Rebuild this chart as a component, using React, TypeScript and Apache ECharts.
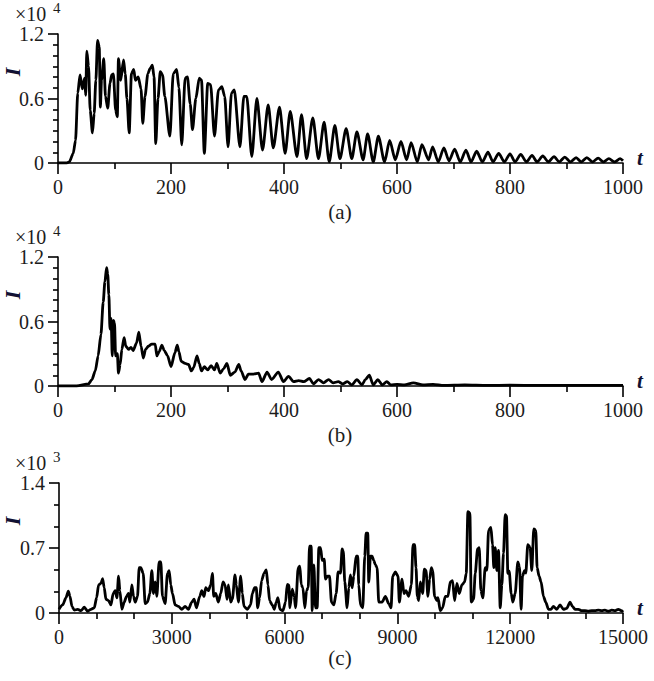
import React, { useEffect, useRef } from "react";
import * as echarts from "echarts";

// Panel (a): time and I (x10^4)
const aT = [0, 15, 20, 27, 31, 35, 39, 43, 47, 49, 51, 54, 57, 61, 64, 67, 70, 73, 75, 77, 81, 84, 88, 92, 95, 98, 102, 105, 107, 111, 116, 119, 122, 126, 130, 134, 137, 142, 147, 150, 154, 159, 163, 167, 170, 173, 177, 181, 185, 189, 198, 204, 210, 214, 219, 225, 229, 234, 238, 244, 250, 254, 259, 265, 270, 277, 284, 290, 295, 301, 307, 312, 322, 329, 334, 343, 352, 362, 372, 381, 392, 402, 411, 423, 431, 440, 451, 461, 471, 480, 490, 499, 510, 520, 529, 540, 548, 558, 567, 578, 587, 597, 607, 617, 625, 636, 644, 656, 663, 673, 683, 692, 702, 712, 722, 731, 741, 751, 761, 770, 780, 790, 800, 809, 819, 829, 839, 848, 858, 868, 878, 887, 897, 907, 917, 926, 936, 946, 956, 965, 975, 985, 995, 1000];
const aI = [0, 0, 0.01, 0.09, 0.21, 0.65, 0.82, 0.69, 0.79, 0.63, 1.04, 0.9, 0.49, 0.28, 0.46, 0.77, 1.14, 1.08, 0.52, 0.77, 0.97, 0.62, 0.51, 0.74, 0.82, 0.83, 0.49, 0.43, 0.97, 0.77, 0.96, 0.83, 0.6, 0.28, 0.83, 0.87, 0.77, 0.8, 0.69, 0.37, 0.62, 0.83, 0.88, 0.91, 0.8, 0.18, 0.6, 0.85, 0.82, 0.62, 0.25, 0.83, 0.87, 0.7, 0.17, 0.79, 0.8, 0.55, 0.31, 0.6, 0.79, 0.77, 0.09, 0.74, 0.73, 0.25, 0.68, 0.71, 0.62, 0.15, 0.65, 0.68, 0.15, 0.62, 0.62, 0.06, 0.6, 0.12, 0.54, 0.14, 0.52, 0.09, 0.48, 0.06, 0.45, 0.04, 0.42, 0.04, 0.38, 0.01, 0.35, 0.04, 0.32, 0.04, 0.29, 0.03, 0.27, 0.01, 0.25, 0.01, 0.21, 0.03, 0.2, 0.03, 0.19, 0.01, 0.17, 0.03, 0.15, 0.01, 0.14, 0.02, 0.13, 0.01, 0.12, 0.01, 0.11, 0.01, 0.1, 0.01, 0.09, 0.01, 0.085, 0.01, 0.08, 0.01, 0.07, 0.01, 0.065, 0.01, 0.06, 0.01, 0.055, 0.01, 0.05, 0.01, 0.05, 0.01, 0.045, 0.01, 0.04, 0.01, 0.04, 0.02];

// Panel (b): time and I (x10^4)
const bT = [0, 33, 54, 60, 66, 71, 76, 80, 83, 86, 88, 90, 92, 94, 96, 98, 100, 102, 105, 107, 110, 113, 117, 120, 125, 129, 133, 139, 143, 147, 151, 155, 160, 166, 172, 175, 179, 184, 188, 194, 200, 207, 211, 214, 218, 225, 231, 236, 240, 246, 250, 254, 259, 265, 271, 277, 281, 287, 293, 299, 305, 313, 320, 324, 331, 337, 346, 355, 361, 370, 378, 390, 399, 408, 417, 426, 435, 445, 452, 461, 470, 479, 487, 496, 504, 512, 520, 529, 538, 544, 551, 558, 566, 574, 582, 589, 600, 613, 629, 646, 664, 683, 720, 760, 800, 850, 900, 950, 1000];
const bI = [0, 0, 0.02, 0.06, 0.14, 0.28, 0.48, 0.78, 0.97, 1.1, 1.04, 0.85, 0.53, 0.63, 0.28, 0.61, 0.59, 0.28, 0.3, 0.12, 0.2, 0.34, 0.45, 0.37, 0.34, 0.36, 0.33, 0.4, 0.5, 0.37, 0.26, 0.34, 0.37, 0.39, 0.39, 0.28, 0.32, 0.38, 0.33, 0.28, 0.18, 0.31, 0.38, 0.32, 0.23, 0.21, 0.2, 0.14, 0.17, 0.28, 0.21, 0.14, 0.18, 0.15, 0.19, 0.15, 0.21, 0.12, 0.16, 0.21, 0.1, 0.13, 0.2, 0.14, 0.06, 0.11, 0.11, 0.12, 0.04, 0.13, 0.06, 0.13, 0.04, 0.09, 0.04, 0.05, 0.04, 0.07, 0.02, 0.06, 0.03, 0.06, 0.03, 0.04, 0.02, 0.04, 0.01, 0.06, 0.01, 0.06, 0.1, 0.01, 0.06, 0.01, 0.04, 0.01, 0.015, 0.01, 0.03, 0.01, 0.015, 0.005, 0.01, 0.005, 0.008, 0.005, 0.006, 0.005, 0.005];

// Panel (c): time and I (x10^3)
const cT = [0, 97, 186, 248, 292, 345, 407, 496, 584, 673, 761, 850, 938, 1000, 1053, 1115, 1159, 1203, 1248, 1318, 1380, 1442, 1495, 1540, 1584, 1619, 1672, 1734, 1796, 1849, 1885, 1938, 1982, 2026, 2088, 2133, 2177, 2239, 2292, 2354, 2416, 2469, 2513, 2557, 2601, 2663, 2708, 2752, 2823, 2885, 2929, 2973, 3018, 3088, 3177, 3265, 3354, 3442, 3531, 3593, 3655, 3743, 3796, 3858, 3902, 3973, 4035, 4080, 4115, 4168, 4239, 4301, 4363, 4416, 4469, 4504, 4566, 4610, 4681, 4716, 4770, 4832, 4876, 4920, 5009, 5097, 5141, 5203, 5247, 5283, 5336, 5389, 5451, 5513, 5557, 5601, 5672, 5725, 5778, 5822, 5876, 5955, 6026, 6070, 6114, 6141, 6203, 6256, 6291, 6362, 6406, 6442, 6486, 6539, 6583, 6628, 6663, 6707, 6734, 6778, 6822, 6866, 6911, 6955, 7000, 7053, 7088, 7141, 7194, 7247, 7309, 7371, 7424, 7486, 7530, 7560, 7601, 7663, 7707, 7752, 7796, 7840, 7902, 7946, 7973, 8017, 8079, 8132, 8167, 8212, 8238, 8283, 8327, 8371, 8415, 8460, 8504, 8592, 8681, 8769, 8831, 8875, 8946, 9017, 9052, 9123, 9176, 9229, 9300, 9371, 9415, 9459, 9495, 9530, 9566, 9610, 9672, 9716, 9760, 9813, 9858, 9902, 9937, 9990, 10052, 10079, 10141, 10203, 10273, 10344, 10406, 10468, 10521, 10583, 10645, 10716, 10787, 10831, 10875, 10928, 10964, 11026, 11070, 11132, 11176, 11220, 11273, 11335, 11380, 11424, 11486, 11530, 11565, 11601, 11645, 11689, 11734, 11778, 11822, 11866, 11902, 11937, 11973, 12026, 12070, 12132, 12203, 12247, 12291, 12326, 12380, 12415, 12468, 12530, 12574, 12627, 12680, 12716, 12769, 12822, 12884, 12946, 13017, 13088, 13150, 13238, 13326, 13415, 13503, 13592, 13654, 13725, 13813, 13902, 13990, 14079, 14167, 14256, 14344, 14433, 14521, 14610, 14698, 14786, 14875, 14963, 15000];
const cI = [0.04, 0.087, 0.164, 0.235, 0.179, 0.071, 0.031, 0.04, 0.025, 0.062, 0.019, 0.04, 0.056, 0.164, 0.303, 0.318, 0.371, 0.272, 0.148, 0.133, 0.087, 0.21, 0.241, 0.164, 0.396, 0.241, 0.04, 0.117, 0.179, 0.21, 0.117, 0.303, 0.18, 0.117, 0.179, 0.488, 0.488, 0.427, 0.102, 0.117, 0.21, 0.457, 0.21, 0.334, 0.18, 0.55, 0.55, 0.179, 0.102, 0.427, 0.457, 0.303, 0.21, 0.087, 0.071, 0.04, 0.071, 0.04, 0.117, 0.148, 0.056, 0.179, 0.241, 0.179, 0.272, 0.241, 0.303, 0.427, 0.179, 0.21, 0.117, 0.21, 0.334, 0.303, 0.148, 0.303, 0.117, 0.148, 0.411, 0.303, 0.117, 0.396, 0.21, 0.071, 0.04, 0.087, 0.21, 0.272, 0.272, 0.056, 0.164, 0.349, 0.427, 0.464, 0.303, 0.133, 0.087, 0.04, 0.117, 0.164, 0.04, 0.025, 0.117, 0.309, 0.3, 0.056, 0.257, 0.179, 0.056, 0.488, 0.504, 0.303, 0.272, 0.056, 0.241, 0.272, 0.72, 0.72, 0.025, 0.519, 0.056, 0.056, 0.705, 0.705, 0.566, 0.581, 0.365, 0.396, 0.396, 0.117, 0.087, 0.21, 0.442, 0.43, 0.689, 0.67, 0.334, 0.056, 0.272, 0.411, 0.272, 0.396, 0.612, 0.612, 0.303, 0.087, 0.056, 0.612, 0.859, 0.859, 0.334, 0.612, 0.612, 0.566, 0.519, 0.488, 0.117, 0.117, 0.179, 0.102, 0.056, 0.396, 0.442, 0.396, 0.117, 0.365, 0.21, 0.241, 0.179, 0.303, 0.736, 0.736, 0.488, 0.179, 0.133, 0.334, 0.21, 0.473, 0.46, 0.179, 0.365, 0.488, 0.457, 0.179, 0.133, 0.164, 0.025, 0.056, 0.179, 0.179, 0.334, 0.349, 0.133, 0.318, 0.21, 0.303, 0.334, 0.427, 1.091, 1.076, 0.117, 0.148, 0.427, 0.689, 0.705, 0.241, 0.164, 0.488, 0.46, 0.89, 0.921, 0.736, 0.488, 0.705, 0.457, 0.674, 0.056, 0.303, 0.643, 1.06, 1.045, 0.427, 0.45, 0.21, 0.117, 0.21, 0.55, 0.5, 0.04, 0.396, 0.457, 0.43, 0.736, 0.705, 0.457, 0.906, 0.89, 0.488, 0.396, 0.334, 0.179, 0.117, 0.04, 0.04, 0.071, 0.04, 0.087, 0.04, 0.05, 0.117, 0.071, 0.04, 0.04, 0.025, 0.025, 0.019, 0.025, 0.025, 0.03, 0.025, 0.03, 0.019, 0.03, 0.025, 0.04, 0.025, 0.01];

const FONT = "Liberation Serif";
const INK = "#1c1c1c";

function pairs(t: number[], v: number[]) {
  return t.map((x, i) => [x, v[i]]);
}

export default function App() {
  const ref = useRef<HTMLDivElement>(null);
  useEffect(() => {
    document.body.style.margin = "0";
    const chart = echarts.init(ref.current!, null, { renderer: "svg" });
    const grids = [
      { left: 58, top: 34, width: 565, height: 129 },
      { left: 58, top: 257, width: 565, height: 129 },
      { left: 59, top: 483, width: 564, height: 130 },
    ];
    const xSpec = [
      { max: 1000, interval: 200, minor: 2 },
      { max: 1000, interval: 200, minor: 2 },
      { max: 15000, interval: 3000, minor: 3 },
    ];
    const ySpec = [
      { max: 1.2, interval: 0.6, minor: 6 },
      { max: 1.2, interval: 0.6, minor: 6 },
      { max: 1.4, interval: 0.7, minor: 3 },
    ];
    const axisLine = { show: true, onZero: false, lineStyle: { color: "#000", width: 1.6 } };
    const labelStyle = { color: INK, fontFamily: FONT, fontSize: 20 };
    const xAxis = xSpec.map((s, i) => ({
      type: "value",
      gridIndex: i,
      min: 0,
      max: s.max,
      interval: s.interval,
      splitLine: { show: false },
      axisLine,
      axisTick: { show: true, length: 11, lineStyle: { color: "#000", width: 1.6 } },
      minorTick: { show: true, splitNumber: s.minor, length: 6, lineStyle: { color: "#000", width: 1.6 } },
      minorSplitLine: { show: false },
      axisLabel: { ...labelStyle, margin: 14, formatter: (v: number) => String(v) },
    }));
    const yAxis = ySpec.map((s, i) => ({
      type: "value",
      gridIndex: i,
      min: 0,
      max: s.max,
      interval: s.interval,
      splitLine: { show: false },
      axisLine,
      axisTick: { show: true, length: 10, lineStyle: { color: "#000", width: 1.6 } },
      minorTick: { show: true, splitNumber: s.minor, length: 5, lineStyle: { color: "#000", width: 1.6 } },
      minorSplitLine: { show: false },
      axisLabel: { ...labelStyle, margin: 14, formatter: (v: number) => String(Math.round(v * 10) / 10) },
    }));
    const datasets = [pairs(aT, aI), pairs(bT, bI), pairs(cT, cI)];
    const series = datasets.map((d, i) => ({
      type: "line",
      xAxisIndex: i,
      yAxisIndex: i,
      data: d,
      showSymbol: false,
      smooth: 0.25,
      smoothMonotone: "x",
      lineStyle: { color: "#000", width: 2.8 },
      z: 1,
    }));
    const axisTop = [34, 257, 483];
    const axisBottom = [163, 386, 613];
    const exps = ["4", "4", "3"];
    const panelNames = ["(a)", "(b)", "(c)"];
    const captionY = [212, 435, 658];
    const graphic: any[] = [];
    const txt = (x: number, y: number, text: string, size: number, extra: any = {}, rotation = 0) => ({
      type: "text",
      x,
      y,
      rotation,
      style: {
        text,
        fontFamily: FONT,
        fontSize: size,
        fill: INK,
        align: "center",
        verticalAlign: "middle",
        ...extra,
      },
    });
    for (let i = 0; i < 3; i++) {
      graphic.push(txt(15, axisTop[i] - 20, "×10", 20, { align: "left" }));
      graphic.push(txt(53, axisTop[i] - 26, exps[i], 15, { align: "left" }));
      graphic.push(txt(12, axisTop[i] + 38, "I", 22, { fontStyle: "italic", fontWeight: "bold", fill: "#111133" }, Math.PI / 2));
      graphic.push(txt(640, axisBottom[i] - 5, "t", 21, { fontStyle: "italic", fontWeight: "bold", fill: "#111133" }));
      graphic.push(txt(340, captionY[i], panelNames[i], 21));
    }
    chart.setOption({
      animation: false,
      backgroundColor: "#fff",
      grid: grids,
      xAxis,
      yAxis,
      series,
      graphic,
    } as any);
    return () => chart.dispose();
  }, []);
  return <div ref={ref} style={{ width: 654, height: 681 }} />;
}
